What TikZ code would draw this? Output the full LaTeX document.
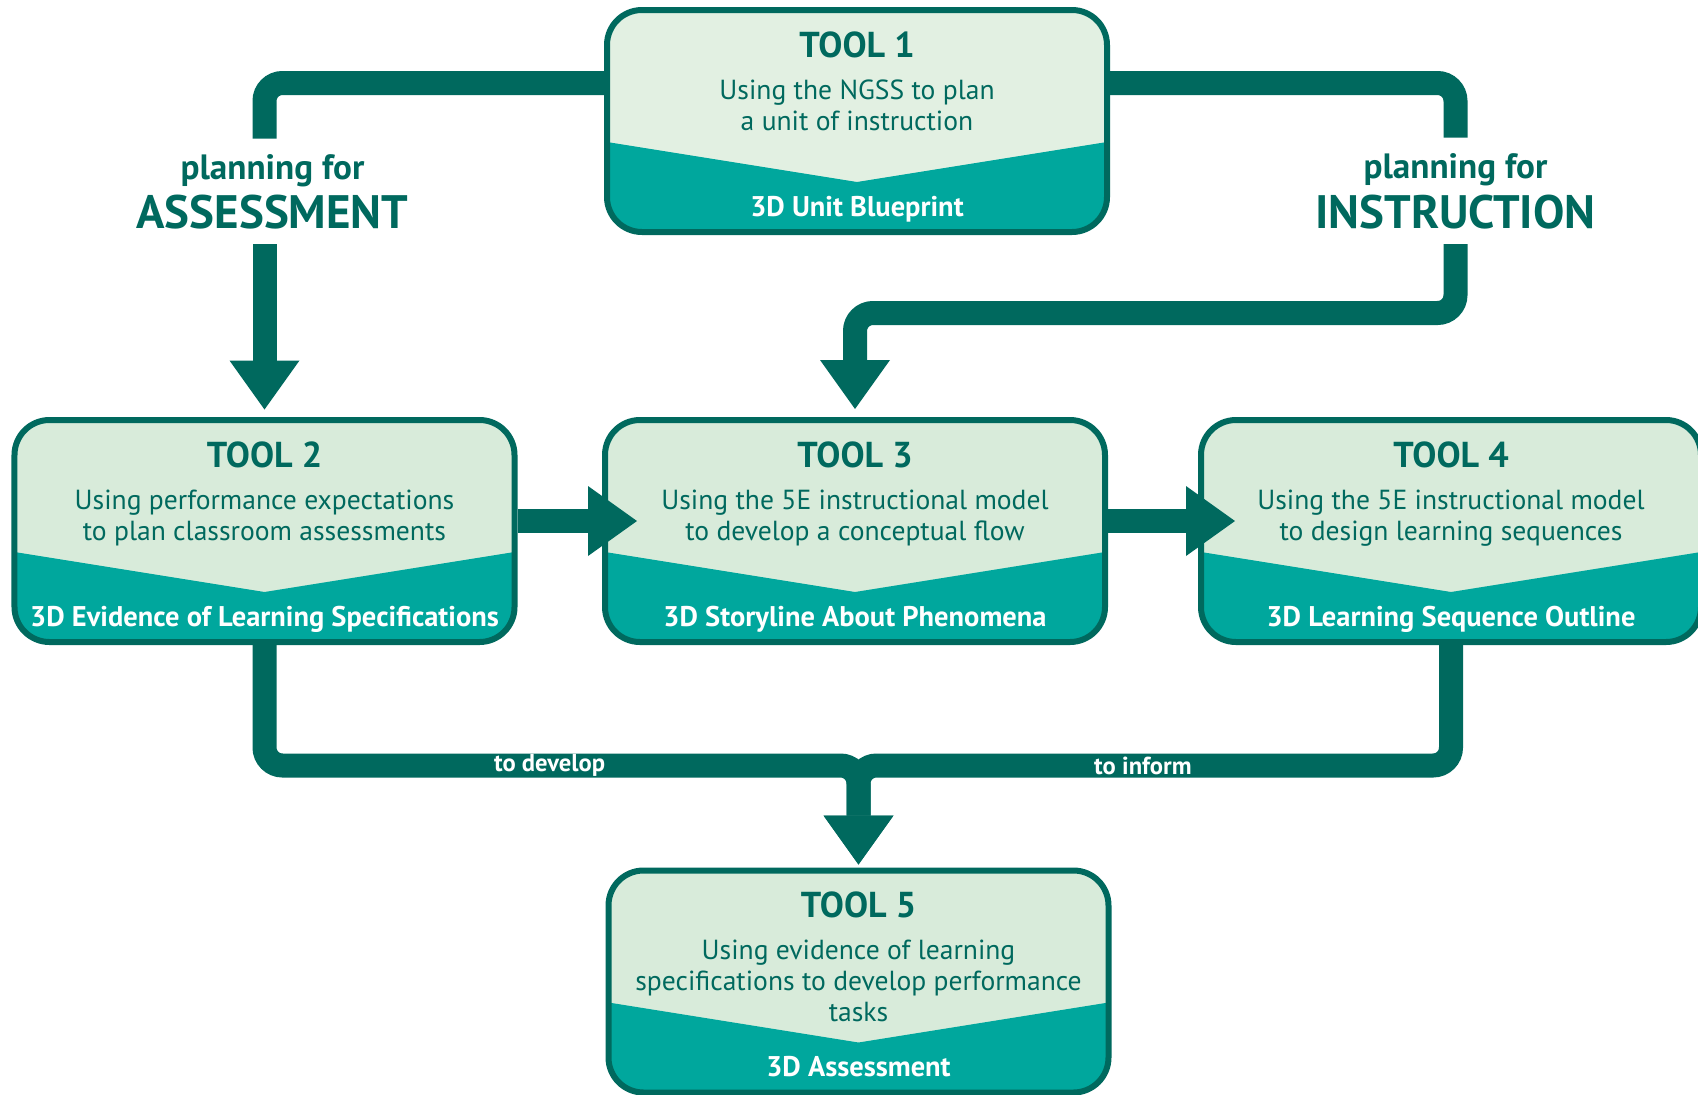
\documentclass[tikz,border=0pt]{standalone}
\usepackage{fontspec}
\setmainfont{PT Sans}
\usepackage{tikz}
\usetikzlibrary{arrows.meta}
\usetikzlibrary{calc}
\usetikzlibrary{positioning}

\definecolor{tooldark}{HTML}{00695E}
\definecolor{toolpale}{HTML}{E2F0E2}
\definecolor{toollight}{HTML}{D8EBDA}
\definecolor{toolteal}{HTML}{00A79D}

\begin{document}
\begin{tikzpicture}
	[
	> = {Triangle[length=9.8mm,width=14mm,line width=0pt 0 0]},
	tool/.style = {draw=tooldark, line width=1.2mm, fill=toollight, rounded corners=7mm,
		minimum width=10cm, minimum height=4.44cm, inner sep=0pt,
		path picture={\fill[toolteal, sharp corners] (path picture bounding box.south west)
			-- ([yshift=1.8cm]path picture bounding box.south west)
			-- ([yshift=1cm]path picture bounding box.south)
			-- ([yshift=1.8cm]path picture bounding box.south east)
			-- (path picture bounding box.south east) -- cycle;}},
	tooltitle/.style = {text=tooldark, font=\fontsize{20.5pt}{24pt}\selectfont\bfseries, anchor=base, inner sep=0pt},
	tooltext/.style = {text=tooldark, font=\fontsize{15.7pt}{17.6pt}\selectfont, align=center, anchor=base, inner sep=0pt},
	toolout/.style = {text=white, font=\fontsize{16.2pt}{18pt}\selectfont\bfseries, anchor=base, inner sep=0pt},
	band/.style = {draw=tooldark, line width=4.8mm, rounded corners=3.6mm},
	bandtag/.style = {text=white, font=\fontsize{14pt}{16pt}\selectfont\bfseries, inner sep=0pt},
	planfor/.style = {text=tooldark, font=\fontsize{20pt}{24pt}\selectfont\bfseries, anchor=base, inner xsep=2pt, inner ysep=3mm},
	planbig/.style = {planfor, font=\fontsize{26.7pt}{30pt}\selectfont\bfseries}
	]
	\path[use as bounding box, fill=white] (0,0) rectangle (33.96,-21.9);

	% the five tools
	\node[tool, fill=toolpale] (t1) at (17.14,-2.42) {};
	\node[tool] (t2) at (5.29,-10.62) {};
	\node[tool] (t3) at (17.10,-10.62) {};
	\node[tool] (t4) at (29.02,-10.62) {};
	\node[tool] (t5) at (17.17,-19.63) {};

	\node[tooltitle] (t1h) at ([yshift=-1cm]t1.north) {TOOL 1};
	\node[tooltext] (t1d) at ([yshift=-2.46cm]t1.north) {Using the NGSS to plan\\a unit of instruction};
	\node[toolout] (t1o) at ([yshift=-4.18cm]t1.north) {3D Unit Blueprint};

	\node[tooltitle] (t2h) at ([yshift=-1cm]t2.north) {TOOL 2};
	\node[tooltext] (t2d) at ([yshift=-2.46cm]t2.north) {Using performance expectations\\to plan classroom assessments};
	\node[toolout] (t2o) at ([yshift=-4.18cm]t2.north) {3D Evidence of Learning Specifications};

	\node[tooltitle] (t3h) at ([yshift=-1cm]t3.north) {TOOL 3};
	\node[tooltext] (t3d) at ([yshift=-2.46cm]t3.north) {Using the 5E instructional model\\to develop a conceptual flow};
	\node[toolout] (t3o) at ([yshift=-4.18cm]t3.north) {3D Storyline About Phenomena};

	\node[tooltitle] (t4h) at ([yshift=-1cm]t4.north) {TOOL 4};
	\node[tooltext] (t4d) at ([yshift=-2.46cm]t4.north) {Using the 5E instructional model\\to design learning sequences};
	\node[toolout] (t4o) at ([yshift=-4.18cm]t4.north) {3D Learning Sequence Outline};

	\node[tooltitle] (t5h) at ([yshift=-1cm]t5.north) {TOOL 5};
	\node[tooltext] (t5d) at ([yshift=-3.08cm]t5.north) {Using evidence of learning\\specifications to develop performance\\tasks};
	\node[toolout] (t5o) at ([yshift=-4.18cm]t5.north) {3D Assessment};

	% planning labels
	\node[planfor] (pfA) at (5.45,-3.58) {planning for};
	\node[planbig] (asA) at (5.45,-4.56) {ASSESSMENT};
	\node[planfor] (pfI) at (29.11,-3.56) {planning for};
	\node[planbig] (asI) at (29.11,-4.56) {INSTRUCTION};

	% connectors
	\draw[band] ([yshift=0.76cm]t1.west) -| (pfA.north -| t2.north);
	\draw[band,->] (asA.south -| t2.north) -- ([yshift=0.15cm]t2.north);

	\coordinate (kI) at ([yshift=2.08cm]t3.north);
	\draw[band] ([yshift=0.76cm]t1.east) -| (pfI.north);
	\draw[band,->] (asI.south) |- (kI) -- ([yshift=0.16cm]t3.north);

	\draw[band,->] ([yshift=0.2cm]t2.east) -- ([yshift=0.2cm,xshift=0.7cm]t3.west);
	\draw[band,->] ([yshift=0.2cm]t3.east) -- ([yshift=0.2cm,xshift=0.74cm]t4.west);

	\coordinate (kD) at ([yshift=2.04cm]t5.north);
	\draw[band,->] (t2.south) |- (kD) node[bandtag, pos=0.74] (lD) {to develop} -- ([yshift=0.06cm]t5.north);
	\draw[band,->] (t4.south) |- (kD) node[bandtag, pos=0.76] (lI) {to inform} -- ([yshift=0.06cm]t5.north);
\end{tikzpicture}
\end{document}
